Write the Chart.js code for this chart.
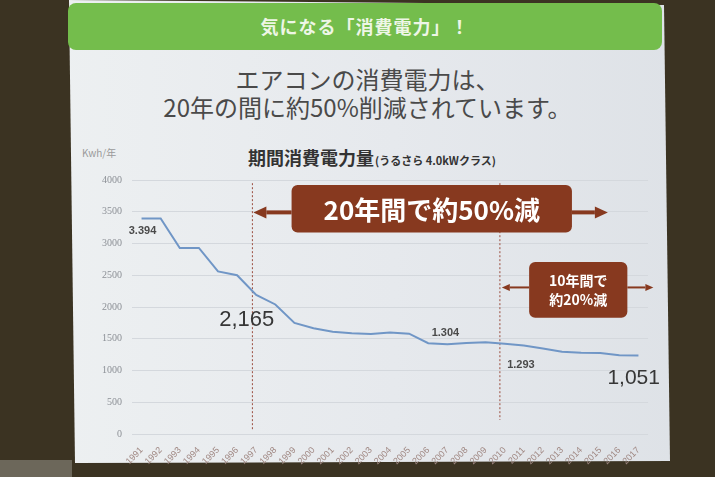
<!DOCTYPE html>
<html>
<head>
<meta charset="utf-8">
<script src="https://cdn.jsdelivr.net/npm/chart.js@4.4.1/dist/chart.umd.min.js"></script>
<style>
  body { margin: 0; width: 715px; height: 477px; overflow: hidden; background: #3b3322; position: relative;
         font-family: "Noto Sans CJK JP", "Noto Sans", sans-serif; }
  .slide { position: absolute; left: 0; top: 0; width: 715px; height: 477px;
           background: linear-gradient(90deg, #eef1f2 0%, #e6e9ed 55%, #dde1e6 100%);
           clip-path: polygon(69px 0, 664px 5px, 670px 461px, 75px 463px); }
  .stand { position: absolute; left: 0; top: 460px; width: 72px; height: 17px; background: #6c675a; }
  .bar { position: absolute; left: 68px; top: 3px; width: 594px; height: 47px; border-radius: 8px;
         background: #74bd4c; color: #eef6e6; font-weight: bold; font-size: 18px; line-height: 47px;
         text-align: center; letter-spacing: 1px; }
  .lead { position: absolute; left: 80px; top: 65px; width: 575px; text-align: center; color: #4a4a4a;
          font-size: 24px; line-height: 28px; }
  .ctitle { position: absolute; left: 248px; top: 144px; color: #333; font-weight: bold; font-size: 18px; }
  .ctitle small { font-size: 11px; font-weight: bold; margin-left: 1px; }
  .unit { position: absolute; left: 82px; top: 145px; color: #9a9a9a; font-size: 10px; }
  canvas { position: absolute; left: 0; top: 0; }
</style>
</head>
<body>
<div class="slide"></div>
<div class="stand"></div>
<div class="bar">気になる「消費電力」！</div>
<div class="lead">エアコンの消費電力は、<br>20年の間に約50%削減されています。</div>
<div class="ctitle">期間消費電力量<small>(うるさら 4.0kWクラス)</small></div>
<div class="unit">Kwh/年</div>
<canvas id="powerChart" width="715" height="477"></canvas>
<script>
const years = ['1991','1992','1993','1994','1995','1996','1997','1998','1999','2000','2001','2002','2003','2004',
               '2005','2006','2007','2008','2009','2010','2011','2012','2013','2014','2015','2016','2017'];
const kwh = [3394, 3394, 2930, 2930, 2560, 2500, 2190, 2040, 1750, 1665, 1610, 1585, 1575, 1600,
             1580, 1430, 1415, 1432, 1443, 1420, 1395, 1345, 1295, 1278, 1275, 1240, 1235];

// 点線の位置（カテゴリ番号）
const markerIdx = [5.8, 18.75];

// 数値ラベル
const labelText = ['3.394', '2,165', '1.304', '1.293', '1,051'];
const labelIdx  = [0.05, 5.5, 15.9, 19.85, 25.75];
const labelVal  = [3200, 1800, 1597, 1080, 880];
const labelSize = [11, 22, 11, 11, 21];

function arrow(ctx, x1, x2, yy, w, head, hw) {
    const dir = Math.sign(x2 - x1);
    ctx.lineWidth = w;
    ctx.beginPath();
    ctx.moveTo(x1, yy);
    ctx.lineTo(x2 - dir * head, yy);
    ctx.stroke();
    ctx.beginPath();
    ctx.moveTo(x2, yy);
    ctx.lineTo(x2 - dir * head, yy - hw);
    ctx.lineTo(x2 - dir * head, yy + hw);
    ctx.closePath();
    ctx.fill();
}

const notes = {
    id: 'notes',
    beforeDatasetsDraw(chart) {
        const { ctx, scales: { x, y } } = chart;
        ctx.save();
        ctx.strokeStyle = '#9b4d3f';
        ctx.lineWidth = 1;
        ctx.setLineDash([2, 2]);
        markerIdx.forEach(i => {
            const px = x.getPixelForValue(i);
            ctx.beginPath();
            ctx.moveTo(px, y.getPixelForValue(3950));
            ctx.lineTo(px, y.getPixelForValue(i > 10 ? 220 : 60));
            ctx.stroke();
        });
        ctx.restore();
    },
    afterDatasetsDraw(chart) {
        const { ctx, scales: { x, y } } = chart;
        const brown = '#87391f';
        ctx.save();
        ctx.fillStyle = brown;
        ctx.strokeStyle = brown;

        // 20年間で約50%減
        let l = x.getPixelForValue(7.85), r = x.getPixelForValue(22.52);
        let t = y.getPixelForValue(3920), b = y.getPixelForValue(3175);
        ctx.beginPath();
        ctx.roundRect(l, t, r - l, b - t, 6);
        ctx.fill();
        let ay = y.getPixelForValue(3490);
        arrow(ctx, l, x.getPixelForValue(5.85), ay, 4, 13, 6);
        arrow(ctx, r, x.getPixelForValue(24.4), ay, 4, 13, 6);
        ctx.fillStyle = '#ffffff';
        ctx.font = 'bold 26px "Noto Sans CJK JP"';
        ctx.textAlign = 'center';
        ctx.textBaseline = 'middle';
        ctx.fillText('20年間で約50%減', (l + r) / 2, (t + b) / 2 + 1);

        // 10年間で約20%減
        ctx.fillStyle = brown;
        l = x.getPixelForValue(20.28); r = x.getPixelForValue(25.42);
        t = y.getPixelForValue(2708); b = y.getPixelForValue(1829);
        ctx.beginPath();
        ctx.roundRect(l, t, r - l, b - t, 6);
        ctx.fill();
        ay = y.getPixelForValue(2308);
        arrow(ctx, l, x.getPixelForValue(18.85), ay, 2, 8, 3.5);
        arrow(ctx, r, x.getPixelForValue(26.78), ay, 2, 8, 3.5);
        ctx.fillStyle = '#ffffff';
        ctx.font = 'bold 14px "Noto Sans CJK JP"';
        ctx.fillText('10年間で', (l + r) / 2, (t + b) / 2 - 9);
        ctx.fillText('約20%減', (l + r) / 2, (t + b) / 2 + 10);

        // 数値ラベル
        labelText.forEach((s, i) => {
            ctx.fillStyle = labelSize[i] > 14 ? '#363636' : '#4a4a4a';
            ctx.font = (labelSize[i] > 14 ? '' : 'bold ') + labelSize[i] + 'px "Liberation Sans", Arial, sans-serif';
            ctx.fillText(s, x.getPixelForValue(labelIdx[i]), y.getPixelForValue(labelVal[i]));
        });
        ctx.restore();
    }
};

const ctx = document.getElementById('powerChart').getContext('2d');
new Chart(ctx, {
    type: 'line',
    data: {
        labels: years,
        datasets: [{
            data: kwh,
            borderColor: '#7096c6',
            borderWidth: 2,
            pointRadius: 0,
            tension: 0,
            fill: false
        }]
    },
    options: {
        responsive: false,
        animation: false,
        devicePixelRatio: 1,
        layout: { padding: { left: 92, right: 67, top: 180, bottom: 8 } },
        plugins: { legend: { display: false }, tooltip: { enabled: false } },
        scales: {
            x: {
                offset: true,
                grid: { display: false },
                border: { display: false },
                ticks: {
                    autoSkip: false,
                    minRotation: 45,
                    maxRotation: 45,
                    padding: 3,
                    color: '#a08883',
                    font: { family: '"Liberation Sans", Arial, sans-serif', size: 9 }
                },
                afterFit(scale) { scale.height = 35; }
            },
            y: {
                min: 0,
                max: 4000,
                ticks: {
                    stepSize: 500,
                    padding: 10,
                    color: '#8c9096',
                    font: { family: '"Liberation Serif", serif', size: 10 },
                    callback: value => String(value)
                },
                grid: { color: '#d4d8dd', drawTicks: false },
                border: { display: false },
                afterFit(scale) { scale.width = 40; }
            }
        }
    },
    plugins: [notes]
});
</script>
</body>
</html>
